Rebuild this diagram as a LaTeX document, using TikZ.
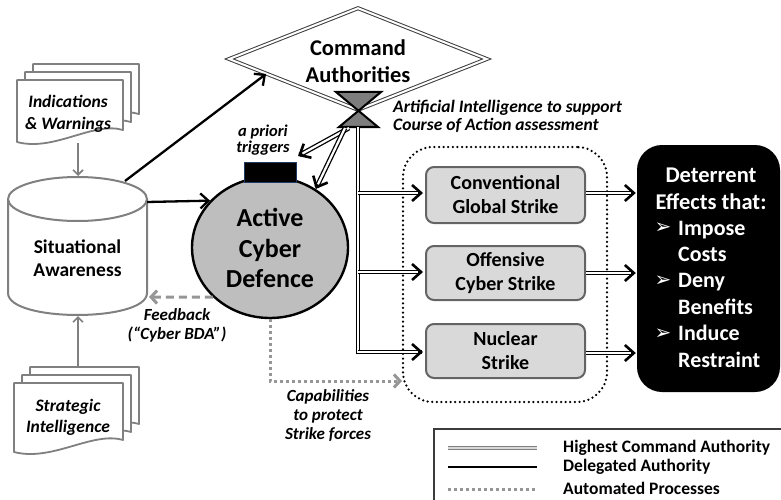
\documentclass[tikz,border=0pt]{standalone}
\usepackage{fontspec}
\setmainfont{Carlito}
\newfontfamily\symfont{DejaVu Sans}
\usetikzlibrary{arrows.meta,shapes.geometric,calc}
\definecolor{docgray}{RGB}{128,128,128}
\definecolor{fbgray}{RGB}{150,150,150}
\definecolor{acdgray}{RGB}{190,190,190}
\definecolor{boxgray}{RGB}{217,217,217}
\definecolor{boxedge}{RGB}{100,100,100}
\definecolor{hggray}{RGB}{125,125,125}
\definecolor{navyedge}{RGB}{31,56,100}
\definecolor{dgray}{RGB}{60,60,60}
\newcommand\fsz[2]{\fontsize{#1pt}{#2pt}\selectfont}
\newcommand\docpage[4]{%
  \draw[docline] (#1,#2) -- ({#1+#3},#2) -- ({#1+#3},{#2+#4-12})
     .. controls ({#1+0.72*#3},{#2+#4-21}) and ({#1+0.35*#3},{#2+#4+10}) .. (#1,{#2+#4}) -- cycle;}
% double line with a solid chevron tip, between two named coordinates
\newcommand\dblarr[2]{%
  \draw[dbl, shorten >=2pt] (#1) -- (#2);
  \draw[dbltip] ($(#2)!5pt!(#1)$) -- (#2);}
\begin{document}
\begin{tikzpicture}[x=1pt,y=-1pt,
  every node/.style={inner sep=0pt, font=\bfseries},
  docline/.style={draw=docgray, line width=1.8pt, fill=white, line join=round},
  cyl/.style={draw=docgray, line width=2pt, fill=white},
  grayarrow/.style={draw=docgray, line width=1.6pt, -{Straight Barb[length=5pt,width=10pt]}},
  dbl/.style={draw=black, line width=1.3pt, double=white, double distance=2.2pt},
  dbltip/.style={draw=black, line width=2.6pt, -{Straight Barb[length=9pt,width=16pt]}},
  delarrow/.style={draw=black, line width=2.3pt, -{Straight Barb[length=8pt,width=15pt]}},
  fbarrow/.style={draw=fbgray, line width=3pt, dash pattern=on 8pt off 5pt, -{Straight Barb[length=6pt,width=13pt]}},
  autoarrow/.style={draw=fbgray, line width=3pt, dash pattern=on 3pt off 3pt, -{Straight Barb[length=6pt,width=13pt]}},
  strike/.style={draw=boxedge, line width=2pt, fill=boxgray, rounded corners=8pt, minimum width=159pt, align=center, font=\bfseries\fsz{20}{24}},
  itlbl/.style={align=center, font=\bfseries\itshape\fsz{17}{20}},
  legtxt/.style={anchor=west, font=\bfseries\fsz{17.5}{19}}
]
\useasboundingbox (0,0) rectangle (781,500);

% ---------- documents ----------
\docpage{33}{64}{106}{62}
\docpage{25}{72}{106}{62}
\docpage{17}{80}{106}{62}
\node[itlbl, font=\bfseries\itshape\fsz{17.5}{22}] (iw) at (68,114) {Indications\\\& Warnings};
\docpage{30}{367}{109}{69}
\docpage{22}{375}{109}{69}
\docpage{14}{383}{109}{69}
\node[itlbl, font=\bfseries\itshape\fsz{17.5}{21}] (si) at (68,417) {Strategic\\Intelligence};

% ---------- cylinder ----------
\filldraw[cyl] (8,199) -- (8,293) .. controls (8,322.3) and (147,322.3) .. (147,293) -- (147,199);
\filldraw[cyl] (77.5,199) ellipse [x radius=69.5, y radius=22];
\node[align=center, font=\bfseries\fsz{19.5}{23}] (sa) at (77.5,258) {Situational\\Awareness};
\coordinate (iwB) at (78,143);
\coordinate (saN) at (78,176);
\coordinate (siT) at (78,367);
\coordinate (saS) at (78,316);
\coordinate (saNE) at (125,181);
\coordinate (saE) at (147,202);
\coordinate (saFB) at (149,297);
\draw[grayarrow] (iwB) -- (saN);
\draw[grayarrow] (siT) -- (saS);

% ---------- command authorities ----------
\node[diamond, draw=dgray, line width=1pt, double=white, double distance=2pt,
      minimum width=258pt, minimum height=102pt] (cmd) at (358,59) {};
\node[align=center, font=\bfseries\fsz{22.5}{27}] (cmdlbl) at (358,61) {Command\\Authorities};
\draw[draw=black, line width=2pt, fill=hggray, line join=miter]
  (336,92) -- (381,92) -- (339,127) -- (378,127) -- cycle;
\coordinate (hgA) at (349,128);
\coordinate (hgB) at (345,128);
\coordinate (hgC) at (358,127);
\node[anchor=west, align=left, font=\bfseries\itshape\fsz{17.5}{18}] (ai) at (393,116)
  {Artificial Intelligence to support\\Course of Action assessment};

% ---------- active cyber defence ----------
\node[ellipse, draw=black, line width=2.4pt, fill=acdgray, minimum width=156pt, minimum height=141pt] (acd) at (270,247.5) {};
\node[align=center, font=\bfseries\fsz{26}{30.5}] (acdlbl) at (270,248) {Active\\Cyber\\Defence};
\node[draw=navyedge, line width=1pt, fill=black, minimum width=52pt, minimum height=20pt] (trig) at (270,172) {};
\node[itlbl, font=\bfseries\itshape\fsz{16.5}{15.5}] (triglbl) at (263,140) {a priori\\triggers};
\coordinate (trigArr) at (298,156);

% ---------- strike group ----------
\node[draw=black, line width=2.5pt, dash pattern=on 0pt off 4.6pt, line cap=round, rounded corners=30pt,
      minimum width=204pt, minimum height=255pt] (grp) at (505,274.5) {};
\node[strike, minimum height=56pt] (cgs) at (505.5,195) {Conventional\\Global Strike};
\node[strike, minimum height=54pt] (ocs) at (505.5,273) {Offensive\\Cyber Strike};
\node[strike, minimum height=54pt] (nuc) at (505.5,351) {Nuclear\\Strike};

% ---------- deterrent effects ----------
\node[fill=black, rounded corners=25pt, minimum width=143pt, minimum height=247pt] (det) at (708.5,268.5) {};
\node[align=center, text=white, font=\bfseries\fsz{22.5}{27}] (dethead) at (711,189) {Deterrent\\Effects that:};
\node[anchor=west, align=left, text=white, font=\bfseries\fsz{22}{26.4}] (detlist) at (678,294)
  {Impose\\Costs\\Deny\\Benefits\\Induce\\Restraint};
\node[text=white, font=\symfont\fsz{20}{20}] (b1) at (663,228) {➢};
\node[text=white, font=\symfont\fsz{20}{20}] (b2) at (663,281) {➢};
\node[text=white, font=\symfont\fsz{20}{20}] (b3) at (663,334) {➢};

% ---------- connectors ----------
\draw[delarrow] (saNE) -- ($(cmd.west)!0.29!(cmd.south)$);
\draw[delarrow] (saE) -- (acd.142.6);
\coordinate (acdNE) at (acd.52);
\dblarr{hgA}{trigArr}
\dblarr{hgB}{acdNE}
\coordinate (jNuc) at ($(nuc.west)+(-3,1)$);
\draw[dbl] (hgC) |- (jNuc);
\coordinate (j1) at (358,193);  \coordinate (e1) at ($(cgs.west)+(-2,-2)$);
\coordinate (j2) at (358,272);  \coordinate (e2) at ($(ocs.west)+(-2,-1)$);
\coordinate (j3) at (358,352);  \coordinate (e3) at ($(nuc.west)+(-2,1)$);
\dblarr{j1}{e1}
\dblarr{j2}{e2}
\dblarr{j3}{e3}
\coordinate (s1) at ($(cgs.east)+(0,-2)$); \coordinate (d1) at ($(cgs.east -| det.west)+(-1,-2)$);
\coordinate (s2) at (ocs.east);            \coordinate (d2) at ($(ocs.east -| det.west)+(-1,0)$);
\coordinate (s3) at ($(nuc.east)+(0,2)$);  \coordinate (d3) at ($(nuc.east -| det.west)+(-1,2)$);
\dblarr{s1}{d1}
\dblarr{s2}{d2}
\dblarr{s3}{d3}
\draw[fbarrow] (acd.221.7) -- (saFB);
\node[itlbl, font=\bfseries\itshape\fsz{17}{19}] (fblbl) at (177,325.5) {Feedback\\(“Cyber BDA”)};
\coordinate (capEnd) at (402,381);
\draw[autoarrow] (acd.south) |- (capEnd);
\node[itlbl, font=\bfseries\itshape\fsz{17}{19}] (caplbl) at (328,416) {Capabilities\\to protect\\Strike forces};

% ---------- legend ----------
\node[draw=dgray, line width=1.6pt, anchor=north west, minimum width=380pt, minimum height=100pt] (leg) at (433,428) {};
\coordinate (l1a) at (448,448); \coordinate (l1b) at (537,448);
\coordinate (l2a) at (448,467); \coordinate (l2b) at (537,467);
\coordinate (l3a) at (448,489); \coordinate (l3b) at (537,489);
\draw[draw=docgray, line width=1.1pt, double=gray!30, double distance=1.4pt] (l1a) -- (l1b);
\draw[draw=black, line width=2.4pt] (l2a) -- (l2b);
\draw[draw=fbgray, line width=3pt, dash pattern=on 3pt off 3pt] (l3a) -- (l3b);
\node[legtxt] (lt1) at (563,447.5) {Highest Command Authority};
\node[legtxt] (lt2) at (563,467) {Delegated Authority};
\node[legtxt] (lt3) at (563,488) {Automated Processes};
\end{tikzpicture}
\end{document}
